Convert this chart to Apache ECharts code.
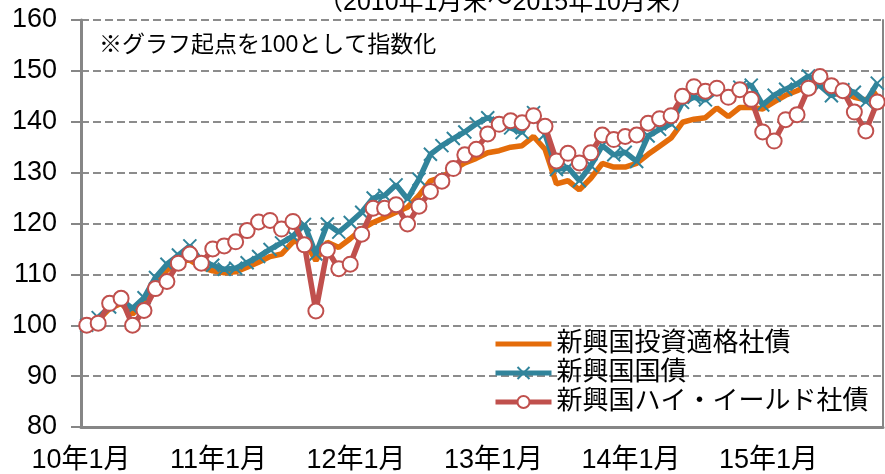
<!DOCTYPE html>
<html><head><meta charset="utf-8">
<script src="https://cdn.jsdelivr.net/npm/echarts@6/dist/echarts.min.js"></script>
<style>html,body{margin:0;padding:0;background:#fff}#c{width:885px;height:474px}</style>
</head><body><div id="c"></div>
<script>
// Months from 2010年1月 to 2015年10月 (70 month-ends)
const startYear = 10, startMonth = 1, monthCount = 70;
const categories = [];
for (let k = 0; k < monthCount; k++) {
  const m = (startMonth - 1 + k) % 12 + 1;
  const y = startYear + Math.floor((startMonth - 1 + k) / 12);
  categories.push(y + '年' + m + '月');
}
const tickLabels = ['10年1月','11年1月','12年1月','13年1月','14年1月','15年1月'];
const seriesNames = ['新興国投資適格社債','新興国国債','新興国ハイ・イールド社債'];

const igCorp = [100.0,101.0,103.3,104.3,102.2,104.5,108.2,110.8,112.6,112.8,111.4,110.7,
  110.3,110.5,111.4,112.4,113.5,114.0,116.4,116.6,112.7,116.3,115.3,117.0,
  118.9,120.2,121.2,122.2,123.2,125.5,128.4,129.1,130.6,131.9,132.8,133.9,
  134.3,135.0,135.3,137.1,134.6,127.8,128.4,126.6,128.9,131.8,131.1,131.1,
  131.8,133.6,135.2,136.8,139.9,140.5,140.8,142.7,141.0,142.8,142.8,142.5,
  143.9,145.2,146.1,147.2,147.2,145.4,145.8,144.8,144.3,145.8];
const govt = [100.0,101.5,103.6,105.0,103.3,105.4,109.4,112.0,113.8,115.6,112.7,111.8,
  111.0,111.2,112.3,113.5,114.9,116.2,117.5,119.8,114.0,119.9,118.3,120.2,
  122.2,125.0,125.5,127.6,124.8,128.7,133.6,135.3,136.7,138.0,139.6,140.8,
  139.7,138.8,137.9,141.8,137.6,130.6,131.0,128.4,131.4,135.3,133.5,134.0,
  132.2,137.2,138.5,139.6,143.8,144.8,144.3,146.1,145.1,146.8,147.2,143.3,
  145.2,146.4,147.4,149.0,147.1,145.1,146.3,145.8,143.9,147.6];
const hyCorp = [100.0,100.4,104.3,105.3,100.0,102.9,107.2,108.6,112.2,114.0,112.2,115.0,
  115.6,116.4,118.6,120.3,120.6,118.9,120.4,115.8,102.8,114.8,111.1,112.0,
  117.9,123.0,123.0,123.7,119.9,123.4,126.3,128.3,130.8,133.5,134.6,137.6,
  139.5,140.2,139.8,141.2,139.1,132.3,133.8,131.9,133.9,137.4,136.5,137.1,
  137.4,139.7,140.6,141.2,145.0,146.9,146.0,146.6,144.8,146.3,144.4,138.0,
  136.2,140.4,141.4,146.6,148.9,147.1,146.1,141.9,138.2,143.9];

const yMin = 80, yMax = 160, yStep = 10;
const FONT = "'Liberation Sans','Noto Sans CJK JP',sans-serif";
const ORANGE = '#E46C0A', TEAL = '#31849B', RED = '#C0504D', AXIS = '#868686', GRID = '#8c8c8c';
const XMARK = 'path://M0,0L10,10M10,0L0,10';

const chart = echarts.init(document.getElementById('c'), null, {renderer: 'canvas'});
chart.setOption({
  animation: false,
  backgroundColor: '#fff',
  textStyle: {fontFamily: FONT},
  grid: {left: 81, right: 2, top: 20, bottom: 46, containLabel: false},
  legend: {
    orient: 'vertical', left: 488, top: 326,
    itemWidth: 56, itemHeight: 15, itemGap: 3,
    textStyle: {fontSize: 26, color: '#000', fontFamily: FONT, lineHeight: 26},
    data: [
      {name: seriesNames[0], itemStyle: {opacity: 0}, lineStyle: {width: 5, color: ORANGE}},
      {name: seriesNames[1], lineStyle: {width: 5, color: TEAL}},
      {name: seriesNames[2], lineStyle: {width: 5, color: RED}}
    ]
  },
  xAxis: {
    type: 'category', data: categories, boundaryGap: true,
    axisLine: {lineStyle: {color: AXIS, width: 3}},
    axisTick: {interval: 11, length: 7, lineStyle: {color: AXIS, width: 2}},
    axisLabel: {
      interval: 11, fontSize: 27, color: '#000', margin: 20, fontFamily: FONT,
      padding: [0, 11.5, 0, 0],
      formatter: v => tickLabels.indexOf(v) >= 0 ? v : ''
    },
    splitLine: {show: false}
  },
  yAxis: [{
    type: 'value', min: yMin, max: yMax, interval: yStep,
    axisLine: {show: true, lineStyle: {color: AXIS, width: 3}},
    axisTick: {show: true, length: 10, lineStyle: {color: AXIS, width: 2}},
    axisLabel: {fontSize: 27, color: '#000', margin: 24, fontFamily: FONT},
    splitLine: {show: true, lineStyle: {color: GRID, width: 2, type: [8, 4]}}
  }, {
    type: 'value', min: yMin, max: yMax, interval: yStep, position: 'right',
    axisLine: {show: true, lineStyle: {color: AXIS, width: 2}},
    axisTick: {show: false}, axisLabel: {show: false}, splitLine: {show: false}
  }],
  graphic: [
    {type: 'text', left: 318, top: -9, style: {text: '（2010年1月末～2015年10月末）', fontSize: 25, fill: '#000', fontFamily: FONT}},
    {type: 'text', left: 99, top: 34, style: {text: '※グラフ起点を100として指数化', fontSize: 23, fill: '#000', fontFamily: FONT}}
  ],
  series: [
    {name: seriesNames[0], type: 'line', data: igCorp, symbol: 'none', z: 2,
     lineStyle: {color: ORANGE, width: 5.5}, itemStyle: {color: ORANGE}},
    {name: seriesNames[1], type: 'line', data: govt, z: 3,
     symbol: XMARK, symbolSize: 13, showAllSymbol: true,
     lineStyle: {color: TEAL, width: 5.5},
     itemStyle: {color: 'none', borderColor: TEAL, borderWidth: 2}},
    {name: seriesNames[2], type: 'line', data: hyCorp, z: 4,
     symbol: 'circle', symbolSize: 15, showAllSymbol: true,
     lineStyle: {color: RED, width: 5.5},
     itemStyle: {color: '#fff', borderColor: RED, borderWidth: 2}}
  ]
});
</script></body></html>
